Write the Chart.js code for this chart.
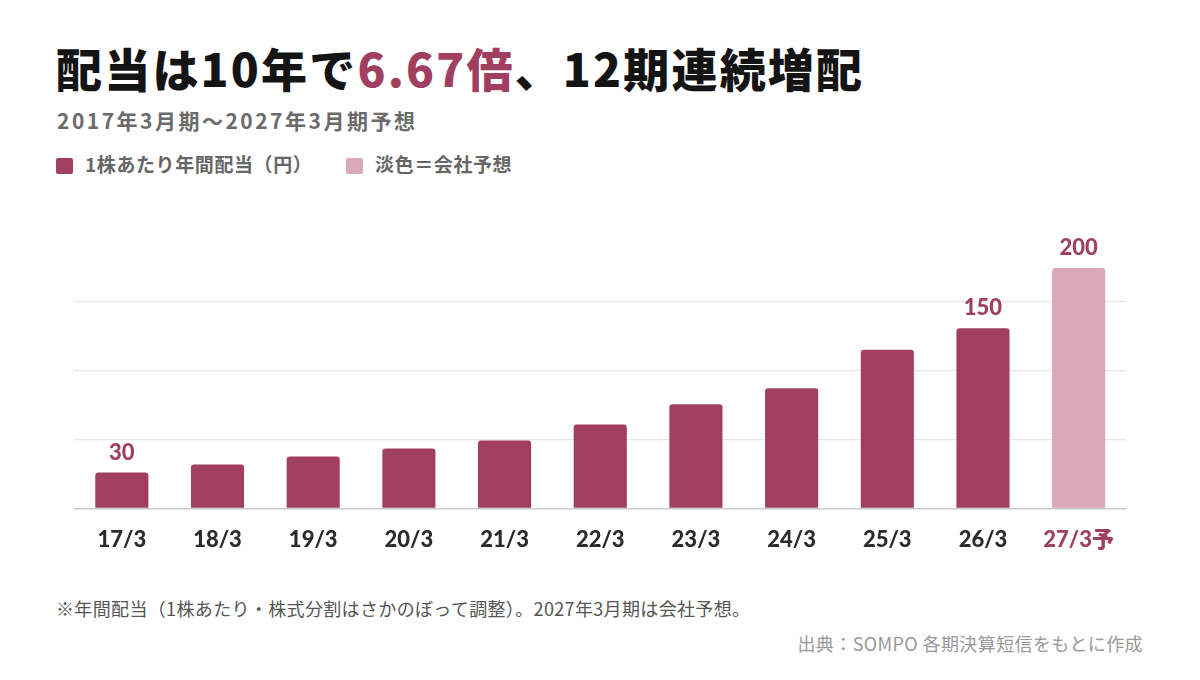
<!DOCTYPE html>
<html lang="ja">
<head>
<meta charset="utf-8">
<title>SOMPO 配当推移</title>
<script src="https://cdn.jsdelivr.net/npm/chart.js@4.4.1/dist/chart.umd.min.js"></script>
<style>
  html, body {
    margin: 0;
    padding: 0;
    background: #ffffff;
    width: 1200px;
    height: 680px;
    overflow: hidden;
    font-family: "Noto Sans CJK JP", "Noto Sans", sans-serif;
  }
  .title {
    position: absolute;
    left: 56px;
    top: 38px;
    font-size: 46px;
    font-weight: 900;
    color: #141414;
    letter-spacing: 2.2px;
    white-space: nowrap;
    line-height: 1.3;
  }
  .title .accent { color: #a03f60; }
  .subtitle {
    position: absolute;
    left: 57px;
    top: 106px;
    font-size: 21px;
    font-weight: 700;
    color: #6b6b6b;
    white-space: nowrap;
    line-height: 1.4;
    letter-spacing: 2.5px;
  }
  .legend {
    position: absolute;
    top: 150px;
    left: 56px;
    font-size: 19px;
    font-weight: 700;
    color: #666666;
    white-space: nowrap;
    line-height: 28px;
    letter-spacing: 0.6px;
  }
  .legend span.item { position: absolute; top: 0; white-space: nowrap; }
  .legend i {
    display: inline-block;
    width: 17px;
    height: 16px;
    border-radius: 2px;
    vertical-align: -2px;
    margin-right: 12px;
  }
  #chartBox {
    position: absolute;
    left: 74px;
    top: 180px;
    width: 1058px;
    height: 391px;
  }
  .note {
    position: absolute;
    left: 56px;
    top: 595px;
    font-size: 18px;
    color: #555555;
    white-space: nowrap;
    letter-spacing: 0.35px;
  }
  .source {
    position: absolute;
    right: 57px;
    top: 630px;
    font-size: 18px;
    color: #999999;
    white-space: nowrap;
    letter-spacing: 0.4px;
  }
</style>
</head>
<body>
<div class="title">配当は10年で<span class="accent">6.67倍</span>、12期連続増配</div>
<div class="subtitle">2017年3月期〜2027年3月期予想</div>
<div class="legend">
  <span class="item" style="left:0"><i style="background:#a03f60"></i>1株あたり年間配当（円）</span>
  <span class="item" style="left:290px"><i style="background:#dba8b9"></i>淡色＝会社予想</span>
</div>
<div id="chartBox"><canvas id="dividendChart"></canvas></div>
<div class="note">※年間配当（1株あたり・株式分割はさかのぼって調整）。2027年3月期は会社予想。</div>
<div class="source">出典：SOMPO 各期決算短信をもとに作成</div>

<script>
// ==========================
// Data
// ==========================
const periods = ["17/3", "18/3", "19/3", "20/3", "21/3", "22/3", "23/3", "24/3", "25/3", "26/3", "27/3予"];
const dividends = [30, 36.7, 43.3, 50, 56.7, 70, 86.7, 100, 132, 150, 200];
const isForecast = [false, false, false, false, false, false, false, false, false, false, true];
const labeledIdx = [0, 9, 10];
const valueLabels = ["30", "150", "200"];
const yTicks = [0, 57.5, 115, 172.5, 230];

const actualColor = "#a03f60";
const forecastColor = "#dba8b9";
const numberFont = "Lato, 'Noto Sans CJK JP', sans-serif";

// ==========================
// Value labels above selected bars
// ==========================
const valueLabelPlugin = {
  id: "valueLabels",
  afterDatasetsDraw(chart) {
    const { ctx } = chart;
    const meta = chart.getDatasetMeta(0);
    ctx.save();
    ctx.font = "900 22px " + numberFont;
    ctx.fillStyle = actualColor;
    ctx.textAlign = "center";
    ctx.textBaseline = "bottom";
    labeledIdx.forEach((idx, n) => {
      const bar = meta.data[idx];
      ctx.fillText(valueLabels[n], bar.x, bar.y - 9);
    });
    ctx.restore();
  }
};

const ctx = document.getElementById("dividendChart").getContext("2d");
window.dividendChart = new Chart(ctx, {
  type: "bar",
  data: {
    labels: periods,
    datasets: [{
      label: "1株あたり年間配当（円）",
      data: dividends,
      backgroundColor: isForecast.map(f => f ? forecastColor : actualColor),
      borderRadius: 3,
      borderSkipped: "bottom",
      categoryPercentage: 1,
      barPercentage: 0.555
    }]
  },
  options: {
    responsive: true,
    maintainAspectRatio: false,
    animation: false,
    layout: { padding: { top: 52, left: 0, right: 0, bottom: 0 } },
    plugins: {
      legend: { display: false },
      tooltip: { enabled: false }
    },
    scales: {
      x: {
        grid: { display: false, drawTicks: false },
        border: { display: false },
        ticks: {
          padding: 18,
          color: (c) => isForecast[c.index] ? actualColor : "#2b2b2b",
          font: { family: numberFont, size: 22, weight: "900" }
        }
      },
      y: {
        min: 0,
        max: 230,
        afterBuildTicks(axis) {
          axis.ticks = yTicks.map(v => ({ value: v }));
        },
        grid: {
          drawTicks: false,
          lineWidth: (c) => c.tick && c.tick.value === 0 ? 1.6 : 1.2,
          color: (c) => {
            if (!c.tick) return "transparent";
            if (c.tick.value === 0) return "#c9c9c9";
            if (c.tick.value === 230) return "transparent";
            return "#e6e6e6";
          }
        },
        border: { display: false },
        ticks: { display: false }
      }
    }
  },
  plugins: [valueLabelPlugin]
});
</script>
</body>
</html>
